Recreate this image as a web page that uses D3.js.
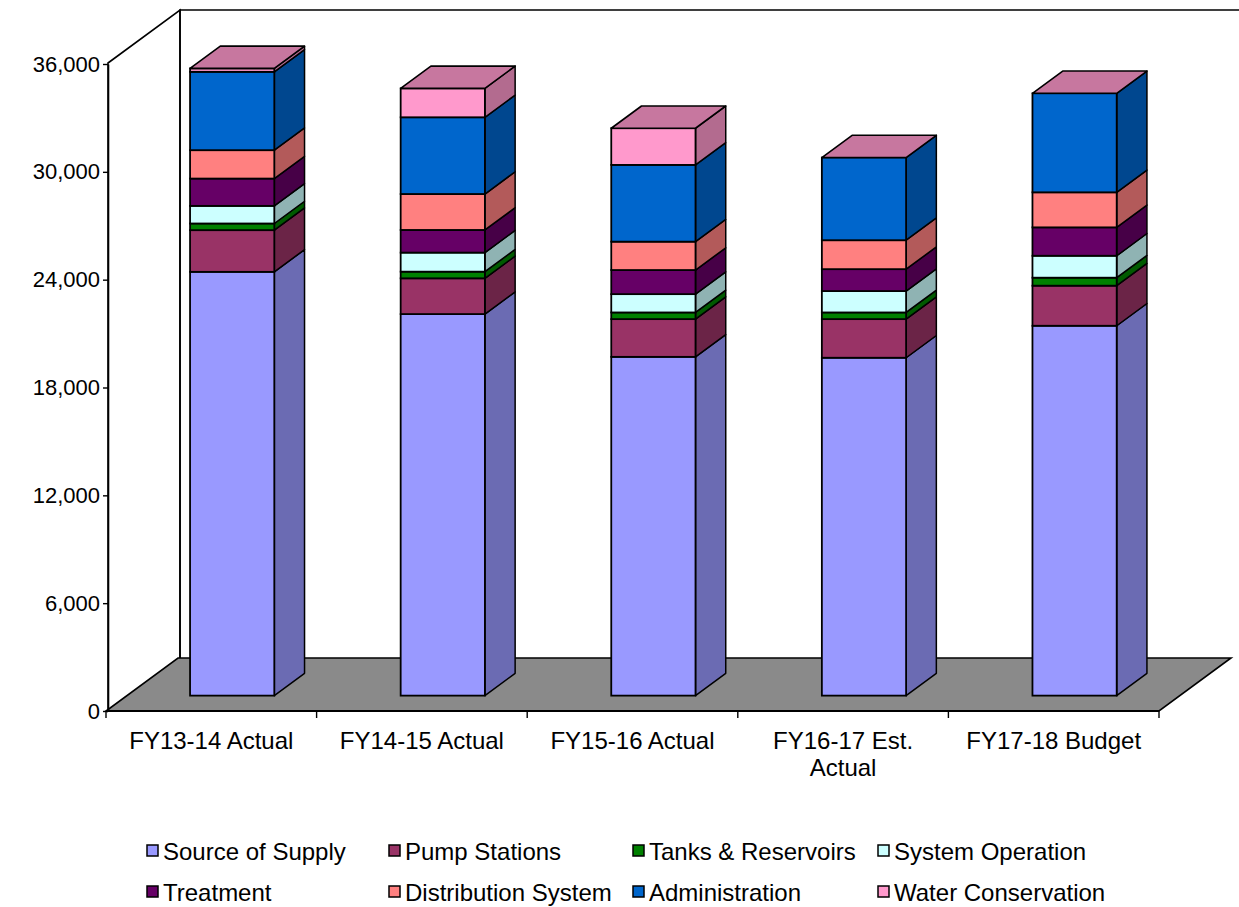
<!DOCTYPE html>
<html>
<head>
<meta charset="utf-8">
<script src="https://cdn.jsdelivr.net/npm/d3@7"></script>
<style>
  html, body { margin: 0; padding: 0; background: #ffffff; }
  svg { display: block; }
  text { font-family: "Liberation Sans", Arial, sans-serif; fill: #000; }
</style>
</head>
<body>
<svg id="chart" width="1239" height="907"></svg>
<script>
// Water operating expenses by program, thousands of dollars
const categories = ["FY13-14 Actual", "FY14-15 Actual", "FY15-16 Actual", "FY16-17 Est. Actual", "FY17-18 Budget"];
const seriesNames = ["Source of Supply", "Pump Stations", "Tanks & Reservoirs", "System Operation",
                     "Treatment", "Distribution System", "Administration", "Water Conservation"];
const sourceOfSupply     = [23580, 21230, 18850, 18800, 20580];
const pumpStations       = [2320, 1990, 2100, 2150, 2230];
const tanksReservoirs    = [370, 370, 370, 370, 445];
const systemOperation    = [980, 1060, 1020, 1190, 1220];
const treatment          = [1520, 1260, 1340, 1220, 1580];
const distributionSystem = [1580, 2000, 1580, 1610, 1950];
const administration     = [4360, 4270, 4270, 4600, 5510];
const waterConservation  = [190, 1610, 2040, 0, 0];
const seriesColors = ["#9999ff", "#993366", "#008000", "#ccffff", "#660066", "#ff8080", "#0066cc", "#ff99cc"];
const yTicks = [0, 6000, 12000, 18000, 24000, 30000, 36000];

const seriesValues = [sourceOfSupply, pumpStations, tanksReservoirs, systemOperation,
                      treatment, distributionSystem, administration, waterConservation];

const rows = categories.map((c, i) => {
  const r = { category: c };
  seriesNames.forEach((s, j) => { r[s] = seriesValues[j][i]; });
  return r;
});
const stacked = d3.stack().keys(seriesNames)(rows);

const svg = d3.select("#chart");

// plot frame: front-left corner of the floor and the 3D depth vector
const x0 = 106, x1 = 1159;
const DX = 72, DY = -53;
const barFront = 0.29, barBack = 0.71;

const y = d3.scaleLinear().domain([0, 36000]).range([711, 64]);
const xCat = d3.scaleBand().domain(categories).range([x0, x1]);
const xBar = d3.scaleBand().domain(categories).range([x0, x1]).paddingInner(0.6).paddingOuter(0.3);

const shade = (c, k) => { const o = d3.rgb(c); return d3.rgb(o.r * k, o.g * k, o.b * k).formatHex(); };
const pts = a => a.map(p => p.join(",")).join(" ");

const yBase = y(0), yTop = y(36000);

// left wall
svg.append("polygon")
  .attr("points", pts([[x0 + 2, yTop - 1], [x0 + 2 + DX, yTop - 1 + DY], [x0 + 2 + DX, yBase + DY], [x0 + 2, yBase]]))
  .attr("fill", "#ffffff").attr("stroke", "#000").attr("stroke-width", 1.6);
// back wall edges
svg.append("path")
  .attr("d", `M${x0 + 2 + DX},${yBase + DY}V${yTop - 1 + DY}H1239`)
  .attr("fill", "none").attr("stroke", "#000").attr("stroke-width", 1.6);
// floor
svg.append("polygon")
  .attr("points", pts([[x0, yBase], [x1, yBase], [x1 + DX, yBase + DY], [x0 + DX, yBase + DY]]))
  .attr("fill", "#8a8a8a").attr("stroke", "#000").attr("stroke-width", 1.6);

// value axis on the front-left edge
const yAxis = svg.append("g")
  .attr("transform", `translate(${x0 + 2},0)`)
  .call(d3.axisLeft(y).tickValues(yTicks).tickFormat(d3.format(",")).tickSize(5).tickSizeOuter(0).tickPadding(3));
yAxis.select(".domain").attr("stroke", "#000").attr("stroke-width", 1.6);
yAxis.selectAll(".tick line").attr("stroke", "#000").attr("stroke-width", 1.4);
yAxis.selectAll(".tick text")
  .style("font-family", '"Liberation Sans", Arial, sans-serif')
  .style("font-size", "22px").attr("fill", "#000");

// category axis ticks at band boundaries
const bounds = categories.map(c => xCat(c)).concat([x1]);
svg.append("g").selectAll("line").data(bounds).join("line")
  .attr("x1", d => d).attr("x2", d => d)
  .attr("y1", yBase).attr("y2", yBase + 7)
  .attr("stroke", "#000").attr("stroke-width", 1.4);
svg.append("line").attr("x1", x0).attr("x2", x1).attr("y1", yBase).attr("y2", yBase)
  .attr("stroke", "#000").attr("stroke-width", 1.8);

// stacked 3D columns
const fdx = barFront * DX, fdy = barFront * DY;
const bdx = barBack * DX, bdy = barBack * DY;
const bw = xBar.bandwidth();
const barsG = svg.append("g");
categories.forEach((c, i) => {
  const g = barsG.append("g");
  const L = xBar(c) + fdx, R = L + bw;
  stacked.forEach((layer, j) => {
    const v0 = layer[i][0], v1 = layer[i][1];
    if (v1 - v0 <= 0) return;
    const yb = y(v0) + fdy, yt = y(v1) + fdy;
    const col = seriesColors[j];
    // side face
    g.append("polygon")
      .attr("points", pts([[R, yb], [R + (bdx - fdx), yb + (bdy - fdy)], [R + (bdx - fdx), yt + (bdy - fdy)], [R, yt]]))
      .attr("fill", shade(col, 0.7)).attr("stroke", "#000").attr("stroke-width", 1.5).attr("stroke-linejoin", "round");
    // front face
    g.append("rect")
      .attr("x", L).attr("y", yt).attr("width", bw).attr("height", yb - yt)
      .attr("fill", col).attr("stroke", "#000").attr("stroke-width", 1.8);
  });
  // top face takes the colour of the last series in the stack
  const total = stacked[stacked.length - 1][i][1];
  const yt = y(total) + fdy;
  g.append("polygon")
    .attr("points", pts([[L, yt], [R, yt], [R + (bdx - fdx), yt + (bdy - fdy)], [L + (bdx - fdx), yt + (bdy - fdy)]]))
    .attr("fill", shade(seriesColors[seriesColors.length - 1], 0.78))
    .attr("stroke", "#000").attr("stroke-width", 1.6).attr("stroke-linejoin", "round");
});

// category labels, wrapped to the band width
const labels = svg.append("g").selectAll("text").data(categories).join("text")
  .attr("x", d => xCat(d) + xCat.bandwidth() / 2)
  .attr("y", 749)
  .attr("text-anchor", "middle")
  .style("font-size", "24px");
labels.each(function (d) {
  const t = d3.select(this);
  const words = d.split(" ");
  let line = [], lines = [];
  words.forEach(w => {
    line.push(w);
    t.text(line.join(" "));
    if (this.getComputedTextLength() > 190 && line.length > 1) {
      line.pop(); lines.push(line.join(" ")); line = [w];
    }
  });
  lines.push(line.join(" "));
  t.text(null);
  lines.forEach((l, k) => {
    t.append("tspan").attr("x", t.attr("x")).attr("dy", k === 0 ? 0 : 27).text(l);
  });
});

// legend, two rows of four
const legendCols = [147, 389, 633, 878];
const legendRows = [851, 892];
const leg = svg.append("g").selectAll("g").data(seriesNames).join("g")
  .attr("transform", (d, i) => `translate(${legendCols[i % 4]},${legendRows[Math.floor(i / 4)]})`);
leg.append("rect")
  .attr("x", 0).attr("y", -6).attr("width", 11).attr("height", 11)
  .attr("fill", (d, i) => seriesColors[i]).attr("stroke", "#000").attr("stroke-width", 1.5);
leg.append("text")
  .attr("x", 16).attr("y", 8.5)
  .style("font-size", "24px")
  .text(d => d);
</script>
</body>
</html>
